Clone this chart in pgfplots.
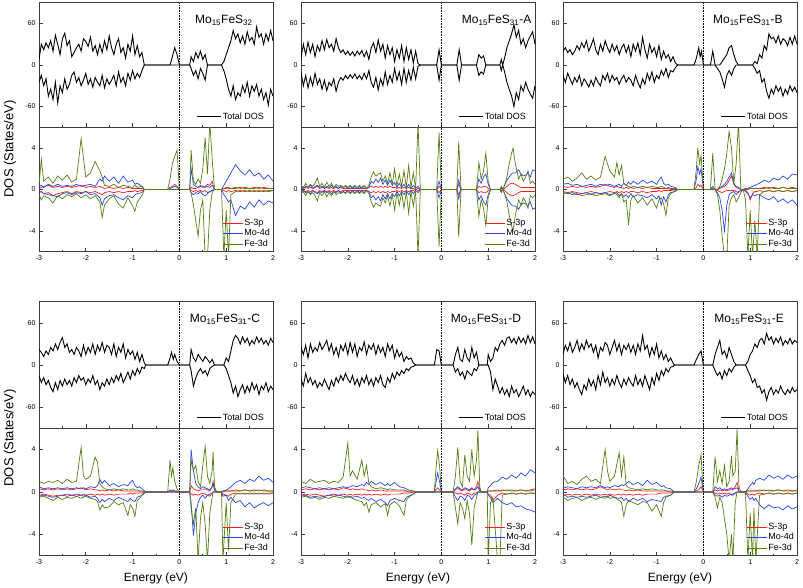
\documentclass[border=0pt]{standalone}
\usepackage{pgfplots}
\usepackage{pgfplotstable}
\pgfplotsset{compat=1.18}
\usepackage{fontspec}
\setmainfont{Liberation Sans}
\definecolor{cS}{RGB}{240,30,30}
\definecolor{cM}{RGB}{40,70,240}
\definecolor{cF}{RGB}{85,125,20}
\definecolor{axc}{RGB}{60,60,60}

% ---------------- Mo15FeS32 ----------------
\pgfplotstableread{
x u d
-3.00 8 -25
-2.95 30 -15
-2.90 22 -30
-2.85 32 -20
-2.80 25 -45
-2.75 35 -35
-2.70 20 -50
-2.65 43 -25
-2.60 30 -55
-2.55 15 -30
-2.50 38 -40
-2.45 46 -20
-2.40 28 -35
-2.35 35 -28
-2.30 12 -15
-2.25 18 -10
-2.20 25 -25
-2.15 30 -18
-2.10 20 -30
-2.05 38 -22
-2.00 34 -12
-1.95 27 -28
-1.90 40 -20
-1.85 20 -32
-1.80 28 -18
-1.75 15 -25
-1.70 30 -30
-1.65 18 -15
-1.60 35 -33
-1.55 22 -20
-1.50 42 -28
-1.45 25 -22
-1.40 15 -15
-1.35 30 -30
-1.30 38 -10
-1.25 18 -25
-1.20 25 -18
-1.15 10 -30
-1.10 30 -12
-1.05 20 -22
-1.00 42 -8
-0.95 15 -20
-0.90 28 -12
-0.85 12 -18
-0.80 18 -8
-0.75 0 0
-0.20 0 0
-0.15 12 0
-0.10 25 0
-0.05 15 0
0.00 0 0
0.22 0 0
0.25 12 -5
0.30 5 -15
0.35 18 -8
0.40 10 -20
0.45 20 -5
0.50 8 -12
0.55 15 -22
0.60 0 0
0.90 0 0
0.95 5 -8
1.00 15 -20
1.05 25 -35
1.10 35 -45
1.15 50 -30
1.20 38 -50
1.25 45 -40
1.30 32 -45
1.35 42 -30
1.40 30 -40
1.45 48 -25
1.50 35 -45
1.55 40 -30
1.60 30 -38
1.65 55 -28
1.70 40 -45
1.75 45 -35
1.80 30 -50
1.85 45 -40
1.90 35 -58
1.95 50 -35
2.00 35 -45
}\TotP
\pgfplotstableread{
x su sd mu md fu fd
-3.00 0.1 -0.3 0.3 -0.3 0.5 -0.5
-2.95 0.2 -0.2 0.4 -0.2 2.9 -1.0
-2.90 0.3 -0.4 0.2 -0.4 0.8 -0.6
-2.80 0.4 -0.3 0.5 -0.5 1.2 -0.8
-2.70 0.2 -0.6 0.3 -0.6 0.6 -1.3
-2.60 0.3 -0.4 0.5 -0.7 1.3 -0.6
-2.50 0.2 -0.3 0.3 -0.4 0.9 -0.9
-2.40 0.3 -0.2 0.4 -0.3 1.4 -0.5
-2.30 0.2 -0.4 0.3 -0.5 0.7 -0.7
-2.20 0.3 -0.2 0.5 -0.3 1.0 -0.4
-2.10 0.4 -0.3 0.3 -0.4 4.9 -0.8
-2.00 0.2 -0.2 0.4 -0.2 1.2 -0.5
-1.90 0.3 -0.3 0.5 -0.5 1.6 -0.9
-1.80 0.2 -0.2 0.3 -0.4 2.7 -0.6
-1.70 0.3 -0.4 1.0 -0.8 1.8 -1.2
-1.65 0.2 -0.5 0.8 -1.5 1.2 -2.7
-1.60 0.1 -0.3 1.3 -0.9 0.4 -1.5
-1.50 0.2 -0.2 0.8 -0.6 0.3 -0.9
-1.40 0.1 -0.3 1.2 -0.5 0.5 -0.6
-1.30 0.2 -0.2 0.6 -0.8 0.2 -1.4
-1.20 0.1 -0.3 1.3 -1.0 0.4 -1.8
-1.10 0.2 -0.2 0.7 -0.6 0.3 -0.8
-1.00 0.1 -0.2 0.9 -0.8 0.2 -1.6
-0.95 0.1 -0.1 0.5 -0.5 0.4 -2.1
-0.90 0.1 -0.2 0.6 -0.4 0.2 -1.2
-0.80 0.1 -0.1 0.3 -0.3 0.3 -0.6
-0.75 0 0 0 0 0 0
-0.25 0 0 0 0 0 0
-0.20 0.2 0 0.1 0 1.0 0
-0.15 0.3 0 0.2 0 2.5 0
-0.10 0.5 0 0.3 0 3.2 0
-0.05 0.3 0 0.2 0 3.8 0
0.00 0 0 0 0 0 0
0.22 0 0 0 0 0 0
0.25 0.2 -0.1 2.0 -0.3 3.8 -0.3
0.30 0.1 -0.2 0.5 -0.5 0.8 -1.5
0.35 0.1 -0.1 0.3 -0.3 0.5 -3.0
0.40 0.2 -0.2 0.2 -0.4 1.0 -4.5
0.45 0.3 -0.1 0.4 -0.2 0.6 -2.0
0.50 0.2 -0.2 0.3 -0.5 2.0 -1.0
0.55 0.3 -0.1 0.2 -0.6 5.0 -6.5
0.60 0.5 -0.3 0.3 -0.4 1.5 -6.5
0.65 0.4 -0.2 0.2 -0.2 6.5 -2.0
0.70 0.8 -0.1 0.4 -0.1 3.0 -0.3
0.75 0 0 0 0 0 0
0.90 0 0 0 0 0 0
0.95 0.1 -0.1 0.4 -0.5 0.1 -6.5
1.00 0.1 -0.2 0.8 -0.8 0.2 -2.0
1.05 0.2 -0.1 1.2 -1.2 0.1 -6.5
1.10 0.1 -0.2 1.6 -1.0 0.1 -0.5
1.20 0.2 -0.1 2.4 -2.5 0.1 -0.2
1.30 0.1 -0.2 1.8 -1.6 0.2 -0.1
1.40 0.2 -0.1 1.4 -1.9 0.1 -0.2
1.50 0.1 -0.2 1.9 -1.2 0.1 -0.1
1.60 0.2 -0.1 1.3 -1.7 0.1 -0.2
1.70 0.1 -0.2 1.6 -1.0 0.2 -0.1
1.80 0.2 -0.1 1.0 -1.5 0.1 -0.2
1.90 0.1 -0.2 1.4 -1.1 0.1 -0.1
2.00 0.1 -0.1 0.8 -1.3 0.1 -0.1
}\PdP

% ---------------- A ----------------
\pgfplotstableread{
x u d
-3.00 10 -10
-2.95 30 -30
-2.90 15 -15
-2.85 33 -33
-2.80 18 -18
-2.75 30 -30
-2.70 12 -12
-2.65 28 -28
-2.60 20 -20
-2.55 35 -35
-2.50 22 -22
-2.45 37 -37
-2.40 25 -25
-2.35 30 -30
-2.30 20 -20
-2.25 38 -38
-2.20 25 -25
-2.15 18 -18
-2.10 22 -22
-2.05 15 -15
-2.00 20 -20
-1.95 14 -14
-1.90 19 -19
-1.85 13 -13
-1.80 20 -20
-1.75 15 -15
-1.70 21 -21
-1.65 12 -12
-1.60 20 -20
-1.55 8 -8
-1.50 25 -25
-1.45 32 -32
-1.40 18 -18
-1.35 36 -36
-1.30 20 -20
-1.25 30 -30
-1.20 10 -10
-1.15 28 -28
-1.10 15 -15
-1.05 25 -25
-1.00 5 -5
-0.95 22 -22
-0.90 10 -10
-0.85 28 -28
-0.80 5 -5
-0.75 25 -25
-0.70 8 -8
-0.65 22 -22
-0.60 3 -3
-0.55 20 -20
-0.50 2 -2
-0.45 0 0
-0.10 0 0
-0.05 22 -22
0.00 0 0
0.33 0 0
0.38 22 -22
0.43 0 0
0.75 0 0
0.80 15 -15
0.85 10 -10
0.90 13 -13
0.95 0 0
1.25 0 0
1.28 8 -8
1.31 0 0
1.35 10 -10
1.40 25 -25
1.45 35 -35
1.50 45 -45
1.55 58 -60
1.60 40 -40
1.65 50 -50
1.70 30 -30
1.75 38 -38
1.80 25 -25
1.85 35 -35
1.90 42 -42
1.95 48 -48
2.00 30 -30
}\TotA
\pgfplotstableread{
x su sd mu md fu fd
-3.00 0.2 -0.2 0.3 -0.3 0.4 -0.4
-2.95 0.1 -0.1 0.1 -0.1 0.2 -0.2
-2.90 0.2 -0.2 0.3 -0.3 0.6 -0.6
-2.85 0.1 -0.1 0.2 -0.2 0.2 -0.2
-2.80 0.2 -0.2 0.4 -0.4 0.5 -0.5
-2.75 0.1 -0.1 0.1 -0.1 0.3 -0.3
-2.70 0.2 -0.2 0.3 -0.3 0.6 -0.6
-2.65 0.3 -0.3 0.4 -0.4 1.1 -1.1
-2.60 0.1 -0.1 0.2 -0.2 0.3 -0.3
-2.55 0.2 -0.2 0.3 -0.3 0.6 -0.6
-2.50 0.1 -0.1 0.1 -0.1 0.2 -0.2
-2.45 0.2 -0.2 0.3 -0.3 0.7 -0.7
-2.40 0.1 -0.1 0.2 -0.2 0.3 -0.3
-2.35 0.2 -0.2 0.4 -0.4 0.6 -0.6
-2.30 0.1 -0.1 0.2 -0.2 0.2 -0.2
-2.25 0.2 -0.2 0.3 -0.3 0.5 -0.5
-2.20 0.1 -0.1 0.1 -0.1 0.3 -0.3
-2.15 0.2 -0.2 0.3 -0.3 0.4 -0.4
-2.10 0.1 -0.1 0.2 -0.2 0.2 -0.2
-2.05 0.1 -0.1 0.3 -0.3 0.4 -0.4
-2.00 0.1 -0.1 0.1 -0.1 0.2 -0.2
-1.95 0.1 -0.1 0.3 -0.3 0.4 -0.4
-1.90 0.1 -0.1 0.1 -0.1 0.2 -0.2
-1.85 0.1 -0.1 0.3 -0.3 0.4 -0.4
-1.80 0.1 -0.1 0.1 -0.1 0.2 -0.2
-1.75 0.1 -0.1 0.3 -0.3 0.4 -0.4
-1.70 0.1 -0.1 0.1 -0.1 0.2 -0.2
-1.65 0.1 -0.1 0.3 -0.3 0.4 -0.4
-1.60 0.1 -0.1 0.1 -0.1 0.1 -0.1
-1.55 0.2 -0.2 0.2 -0.2 0.4 -0.4
-1.50 0.3 -0.3 0.8 -0.8 1.2 -1.2
-1.45 0.2 -0.2 0.6 -0.6 1.7 -1.7
-1.40 0.3 -0.3 1.0 -1.0 1.3 -1.3
-1.35 0.2 -0.2 0.7 -0.7 1.5 -1.5
-1.30 0.3 -0.3 1.1 -1.1 1.6 -1.6
-1.25 0.2 -0.2 0.5 -0.5 0.8 -0.8
-1.20 0.3 -0.3 0.9 -0.9 1.3 -1.3
-1.15 0.2 -0.2 0.4 -0.4 0.6 -0.6
-1.10 0.3 -0.3 0.9 -0.9 1.6 -1.6
-1.05 0.2 -0.2 0.4 -0.4 0.5 -0.5
-1.00 0.2 -0.2 0.7 -0.7 2.0 -2.0
-0.95 0.1 -0.1 0.2 -0.2 0.3 -0.3
-0.90 0.2 -0.2 0.6 -0.6 1.5 -1.5
-0.85 0.1 -0.1 0.2 -0.2 0.3 -0.3
-0.80 0.2 -0.2 0.5 -0.5 1.8 -1.8
-0.75 0.1 -0.1 0.1 -0.1 0.2 -0.2
-0.70 0.2 -0.2 0.5 -0.5 2.3 -2.3
-0.65 0.1 -0.1 0.1 -0.1 0.2 -0.2
-0.60 0.1 -0.1 0.4 -0.4 1.6 -1.6
-0.55 0.0 0.0 0.1 -0.1 0.1 -0.1
-0.50 0.1 -0.1 0.3 -0.3 6.5 -6.5
-0.45 0 0 0 0 0 0
-0.10 0 0 0 0 0 0
-0.05 0.3 -0.3 0.8 -0.8 5.5 -5.5
0.00 0 0 0 0 0 0
0.33 0 0 0 0 0 0
0.37 0.5 -0.5 0.9 -0.9 4.6 -4.6
0.42 0 0 0 0 0 0
0.75 0 0 0 0 0 0
0.80 0.3 -0.3 1.0 -1.0 2.6 -2.6
0.85 0.2 -0.2 0.6 -0.6 1.0 -1.0
0.90 0.3 -0.3 1.2 -1.2 1.8 -1.8
0.95 0.3 -0.3 1.5 -1.5 3.5 -3.5
1.00 0.1 -0.1 0.5 -0.5 0.8 -0.8
1.05 0 0 0 0 0 0
1.25 0 0 0 0 0 0
1.28 0.1 -0.1 0.2 -0.2 0.3 -0.3
1.31 0 0 0 0 0 0
1.35 0.1 -0.1 0.4 -0.4 0.4 -0.4
1.40 0.3 -0.3 0.9 -0.9 1.2 -1.2
1.45 0.5 -0.5 1.2 -1.2 2.5 -2.5
1.50 0.6 -0.6 1.5 -1.5 3.5 -3.5
1.53 0.6 -0.6 1.6 -1.6 4.0 -4.0
1.58 0.5 -0.5 1.6 -1.6 2.5 -2.5
1.65 0.3 -0.3 1.9 -1.9 1.0 -1.0
1.70 0.2 -0.2 1.5 -1.5 1.5 -1.5
1.75 0.2 -0.2 1.3 -1.3 0.8 -0.8
1.80 0.2 -0.2 1.4 -1.4 1.2 -1.2
1.85 0.2 -0.2 1.6 -1.6 1.8 -1.8
1.90 0.2 -0.2 1.2 -1.2 0.6 -0.6
1.95 0.2 -0.2 1.9 -1.9 0.8 -0.8
2.00 0.2 -0.2 1.8 -1.8 0.5 -0.5
}\PdA

% ---------------- B ----------------
\pgfplotstableread{
x u d
-3.00 20 -15
-2.95 25 -25
-2.90 18 -12
-2.85 22 -20
-2.80 15 -28
-2.75 20 -18
-2.70 28 -25
-2.65 22 -15
-2.60 32 -30
-2.55 25 -20
-2.50 35 -25
-2.45 20 -32
-2.40 28 -22
-2.35 38 -30
-2.30 22 -18
-2.25 15 -25
-2.20 30 -30
-2.15 20 -15
-2.10 35 -22
-2.05 25 -12
-2.00 18 -25
-1.95 30 -15
-1.90 20 -22
-1.85 28 -18
-1.80 15 -28
-1.75 25 -20
-1.70 30 -15
-1.65 18 -25
-1.60 28 -18
-1.55 12 -22
-1.50 30 -30
-1.45 20 -15
-1.40 32 -25
-1.35 15 -33
-1.30 40 -20
-1.25 22 -28
-1.20 10 -12
-1.15 30 -22
-1.10 18 -10
-1.05 25 -25
-1.00 12 -15
-0.95 28 -20
-0.90 8 -8
-0.85 20 -15
-0.80 10 -5
-0.75 15 -18
-0.70 5 -8
-0.65 12 -10
-0.60 3 -4
-0.55 0 0
-0.20 0 0
-0.15 10 0
-0.10 25 0
-0.07 12 0
-0.04 20 0
0.00 0 0
0.15 0 0
0.20 20 0
0.25 0 0
0.30 0 -5
0.35 0 -10
0.40 5 -20
0.45 10 -32
0.50 15 -15
0.55 25 -8
0.60 28 -15
0.65 15 -5
0.70 5 0
0.75 0 0
1.05 0 0
1.10 5 -5
1.15 2 -12
1.20 15 -8
1.25 10 -25
1.30 28 -20
1.35 22 -38
1.40 45 -48
1.45 38 -35
1.50 40 -42
1.55 32 -30
1.60 42 -38
1.65 30 -32
1.70 38 -45
1.75 35 -35
1.80 28 -42
1.85 40 -30
1.90 30 -38
1.95 42 -32
2.00 30 -40
}\TotB
\pgfplotstableread{
x su sd mu md fu fd
-3.00 0.3 -0.2 0.5 -0.3 1.0 -0.4
-2.90 0.2 -0.3 0.6 -0.4 1.2 -0.3
-2.80 0.3 -0.2 0.4 -0.3 0.8 -0.5
-2.70 0.2 -0.3 0.5 -0.5 1.1 -0.4
-2.60 0.3 -0.4 0.3 -0.4 1.6 -0.6
-2.50 0.2 -0.3 0.4 -0.3 1.0 -0.5
-2.40 0.3 -0.2 0.5 -0.5 1.3 -0.4
-2.30 0.2 -0.3 0.3 -0.3 0.9 -0.6
-2.20 0.3 -0.4 0.5 -0.4 1.2 -0.5
-2.10 0.5 -0.3 0.4 -0.3 3.2 -0.4
-2.00 0.3 -0.2 0.5 -0.5 1.8 -0.6
-1.90 0.2 -0.3 0.3 -0.4 1.2 -0.3
-1.85 0.3 -0.2 0.4 -0.3 2.6 -0.5
-1.80 0.2 -0.3 0.5 -0.6 1.4 -0.8
-1.75 0.2 -0.2 0.3 -0.4 2.3 -0.4
-1.70 0.1 -0.3 0.6 -0.7 0.6 -1.2
-1.65 0.2 -0.2 0.4 -0.5 0.4 -1.0
-1.60 0.1 -0.3 0.7 -0.8 0.3 -3.4
-1.55 0.2 -0.2 0.5 -0.4 0.2 -1.0
-1.50 0.1 -0.2 0.8 -0.7 0.3 -0.6
-1.40 0.2 -0.3 0.5 -0.5 0.2 -1.3
-1.30 0.1 -0.2 0.9 -0.6 0.3 -0.8
-1.20 0.2 -0.3 0.6 -0.8 0.2 -1.5
-1.10 0.1 -0.2 0.8 -0.5 0.3 -0.9
-1.00 0.1 -0.2 0.5 -0.9 0.2 -1.8
-0.95 0.1 -0.1 0.9 -0.6 0.2 -1.0
-0.90 0.1 -0.2 1.2 -1.5 0.3 -0.8
-0.85 0.1 -0.1 0.6 -0.7 0.2 -1.4
-0.80 0.1 -0.1 0.4 -1.2 0.1 -2.5
-0.75 0.1 -0.1 0.5 -0.5 0.2 -0.8
-0.70 0.0 -0.1 0.3 -0.3 0.1 -0.4
-0.60 0.0 0.0 0.2 -0.2 0.1 -0.1
-0.55 0 0 0 0 0 0
-0.20 0 0 0 0 0 0
-0.15 0.2 0 1.0 0 2.0 0
-0.12 0.5 0 2.2 0 4.0 0
-0.08 0.3 0 1.5 0 2.5 0
-0.05 0.4 0 2.0 0 3.3 0
0.00 0 0 0 0 0 0
0.15 0 0 0 0 0 0
0.20 0.1 0 0.3 0 3.5 0
0.25 0 0 0 0 0 0
0.30 0 -0.1 0 -0.3 0 -0.5
0.35 0.1 -0.2 0.2 -0.8 0.3 -2.0
0.40 0.2 -0.3 0.3 -2.0 1.0 -4.5
0.45 0.3 -0.2 0.5 -4.0 2.0 -6.5
0.50 0.5 -0.1 0.8 -1.5 3.5 -6.5
0.55 0.9 -0.1 1.2 -0.5 5.6 -1.5
0.60 1.3 -0.1 1.6 -0.3 4.0 -0.8
0.65 0.5 -0.1 0.6 -0.2 0.6 -0.5
0.70 0.2 -0.2 0.3 -0.5 2.5 -1.2
0.75 0.1 -0.3 0.2 -0.2 6.5 -0.8
0.80 0 -0.1 0 -0.1 0 -0.3
0.85 0 0 0 0 0 0
0.90 0 -0.1 0.1 -0.2 0 -1.0
0.95 0 -0.3 0.1 -0.4 0.1 -6.5
1.00 0.1 -1.0 0.2 -0.8 0.1 -2.0
1.05 0.1 -0.4 0.3 -0.5 0.1 -6.5
1.10 0.1 -0.2 0.4 -0.6 0.1 -3.0
1.15 0.1 -0.2 0.5 -0.5 0.1 -6.5
1.20 0.1 -0.1 0.6 -0.5 0.1 -0.5
1.30 0.2 -0.2 0.9 -0.8 0.1 -0.2
1.40 0.1 -0.1 0.7 -1.0 0.2 -0.1
1.50 0.2 -0.2 1.1 -0.7 0.1 -0.2
1.60 0.1 -0.1 0.9 -1.2 0.1 -0.1
1.70 0.2 -0.2 1.3 -0.9 0.2 -0.2
1.80 0.1 -0.1 1.0 -1.3 0.1 -0.1
1.90 0.2 -0.2 1.5 -1.0 0.1 -0.2
2.00 0.1 -0.1 1.4 -1.5 0.1 -0.1
}\PdB

% ---------------- C ----------------
\pgfplotstableread{
x u d
-3.00 22 -15
-2.95 18 -25
-2.90 12 -18
-2.85 20 -28
-2.80 15 -22
-2.75 25 -32
-2.70 20 -38
-2.65 30 -25
-2.60 22 -35
-2.55 32 -22
-2.50 39 -30
-2.45 25 -20
-2.40 30 -28
-2.35 18 -22
-2.30 22 -30
-2.25 15 -18
-2.20 25 -25
-2.15 20 -15
-2.10 12 -22
-2.05 28 -18
-2.00 15 -28
-1.95 25 -20
-1.90 18 -25
-1.85 30 -15
-1.80 15 -28
-1.75 28 -22
-1.70 20 -35
-1.65 32 -25
-1.60 18 -30
-1.55 28 -20
-1.50 25 -28
-1.45 15 -18
-1.40 30 -25
-1.35 12 -15
-1.30 25 -22
-1.25 18 -12
-1.20 30 -25
-1.15 10 -18
-1.10 22 -10
-1.05 15 -20
-1.00 20 -8
-0.95 8 -15
-0.90 18 -5
-0.85 5 -12
-0.80 15 -3
-0.75 3 -5
-0.72 0 0
-0.25 0 0
-0.20 10 0
-0.17 18 0
-0.13 8 0
-0.10 15 0
-0.05 5 0
0.00 0 0
0.22 0 0
0.25 22 -8
0.30 10 -30
0.35 5 -18
0.40 15 -10
0.45 10 -5
0.50 5 -12
0.55 12 -8
0.60 8 -15
0.65 3 -5
0.70 8 -2
0.75 0 0
0.95 0 0
1.00 10 -5
1.05 5 -15
1.10 20 -25
1.15 35 -40
1.20 42 -30
1.25 38 -45
1.30 30 -35
1.35 40 -28
1.40 32 -40
1.45 38 -30
1.50 28 -38
1.55 35 -25
1.60 30 -35
1.65 40 -28
1.70 32 -42
1.75 38 -30
1.80 30 -35
1.85 35 -25
1.90 28 -38
1.95 38 -30
2.00 32 -35
}\TotC
\pgfplotstableread{
x su sd mu md fu fd
-3.00 0.3 -0.3 0.5 -0.4 1.0 -0.5
-2.90 0.2 -0.2 0.3 -0.3 0.8 -0.4
-2.80 0.3 -0.3 0.4 -0.4 1.0 -0.6
-2.70 0.2 -0.4 0.3 -0.5 0.9 -0.8
-2.60 0.3 -0.3 0.4 -0.4 1.1 -0.5
-2.50 0.2 -0.3 0.3 -0.3 0.8 -0.7
-2.40 0.3 -0.2 0.4 -0.4 1.2 -0.5
-2.30 0.2 -0.3 0.3 -0.3 0.9 -0.6
-2.20 0.3 -0.2 0.4 -0.4 1.0 -0.4
-2.10 0.4 -0.3 0.3 -0.3 4.2 -0.6
-2.05 0.3 -0.2 0.4 -0.4 1.5 -0.5
-2.00 0.2 -0.3 0.3 -0.3 1.2 -0.4
-1.90 0.3 -0.2 0.5 -0.5 1.5 -0.6
-1.80 0.2 -0.3 0.4 -0.4 3.3 -0.7
-1.75 0.2 -0.2 0.6 -0.6 2.8 -0.9
-1.70 0.1 -0.3 1.2 -1.0 0.8 -1.7
-1.65 0.2 -0.2 0.8 -0.7 0.5 -1.2
-1.60 0.1 -0.3 1.1 -0.9 0.3 -1.5
-1.50 0.2 -0.2 0.6 -0.6 0.2 -1.4
-1.40 0.1 -0.3 0.8 -0.8 0.3 -0.9
-1.30 0.2 -0.2 0.5 -0.5 0.2 -1.2
-1.20 0.1 -0.2 0.7 -0.7 0.3 -1.0
-1.10 0.1 -0.2 0.6 -0.9 0.2 -2.2
-1.05 0.1 -0.1 0.9 -0.6 0.2 -1.2
-1.00 0.1 -0.2 1.1 -0.8 0.3 -1.5
-0.95 0.1 -0.1 0.6 -0.9 0.2 -2.3
-0.90 0.1 -0.1 0.4 -0.5 0.2 -0.8
-0.85 0.1 -0.1 0.5 -0.4 0.1 -0.6
-0.80 0.0 -0.1 0.3 -0.3 0.1 -0.3
-0.72 0 0 0 0 0 0
-0.25 0 0 0 0 0 0
-0.20 0.1 0 0.2 0 3.0 0
-0.17 0.1 0 0.1 0 1.5 0
-0.14 0.1 0 0.2 0 2.3 0
-0.10 0.1 0 0.1 0 1.0 0
-0.05 0 0 0.1 0 0.3 0
0.00 0 0 0 0 0 0
0.22 0 0 0 0 0 0
0.25 0.6 -0.2 4.0 -1.0 3.0 -1.5
0.30 0.3 -0.3 2.0 -4.1 2.0 -3.0
0.35 0.2 -0.2 0.8 -2.0 2.5 -1.5
0.40 0.1 -0.3 0.5 -1.0 1.0 -6.5
0.45 0.2 -0.2 0.3 -0.5 0.5 -2.5
0.50 0.2 -0.1 0.5 -0.3 2.5 -1.0
0.55 0.3 -0.2 0.4 -0.6 4.3 -3.0
0.60 0.2 -0.3 0.3 -0.3 1.5 -6.5
0.65 0.1 -0.4 0.2 -0.2 0.8 -2.0
0.70 0.5 -0.1 0.5 -0.1 2.0 -0.5
0.72 1.0 0 0.8 0 3.8 0
0.75 0.2 0 0.2 0 0.5 0
0.80 0 0 0 0 0 0
0.90 0 0 0 0 0 0
0.93 0 -0.2 0.1 -0.4 0.1 -6.5
1.00 0.1 -0.3 0.2 -0.3 0.1 -1.0
1.05 0.1 -0.4 0.3 -0.8 0.1 -5.5
1.10 0.1 -0.2 0.5 -0.5 0.1 -1.0
1.20 0.2 -0.1 0.9 -1.0 0.1 -0.2
1.30 0.1 -0.2 1.1 -0.8 0.1 -0.1
1.40 0.2 -0.1 0.8 -1.4 0.2 -0.2
1.50 0.1 -0.2 1.2 -1.0 0.1 -0.1
1.60 0.2 -0.1 1.0 -1.5 0.1 -0.2
1.70 0.1 -0.2 1.5 -1.2 0.2 -0.1
1.80 0.2 -0.1 1.1 -1.0 0.1 -0.2
1.90 0.1 -0.2 1.3 -1.3 0.1 -0.1
2.00 0.1 -0.1 0.9 -1.0 0.1 -0.1
}\PdC

% ---------------- D ----------------
\pgfplotstableread{
x u d
-3.00 25 -20
-2.95 15 -30
-2.90 28 -12
-2.85 10 -25
-2.80 30 -18
-2.75 18 -28
-2.70 25 -22
-2.65 20 -32
-2.60 32 -25
-2.55 22 -30
-2.50 28 -20
-2.45 35 -28
-2.40 20 -35
-2.35 30 -22
-2.30 15 -30
-2.25 25 -18
-2.20 12 -25
-2.15 28 -15
-2.10 20 -22
-2.05 30 -12
-2.00 15 -20
-1.95 32 -25
-1.90 18 -15
-1.85 30 -28
-1.80 12 -20
-1.75 25 -30
-1.70 20 -18
-1.65 33 -25
-1.60 15 -15
-1.55 28 -28
-1.50 22 -20
-1.45 30 -30
-1.40 15 -18
-1.35 28 -25
-1.30 18 -15
-1.25 25 -28
-1.20 12 -32
-1.15 30 -18
-1.10 20 -25
-1.05 28 -12
-1.00 10 -20
-0.95 22 -10
-0.90 12 -15
-0.85 18 -8
-0.80 5 -12
-0.75 12 -5
-0.70 8 -8
-0.65 10 -3
-0.60 3 -2
-0.55 0 0
-0.15 0 0
-0.10 22 0
-0.05 20 0
0.00 0 0
0.25 0 0
0.30 15 -10
0.35 25 -5
0.40 8 -15
0.45 5 -10
0.50 22 -20
0.55 10 -8
0.60 5 -12
0.65 25 -15
0.70 10 -5
0.75 18 -8
0.80 0 0
0.98 0 0
1.00 15 0
1.05 5 -10
1.10 10 -35
1.15 25 -20
1.20 20 -30
1.25 30 -40
1.30 35 -32
1.35 28 -42
1.40 38 -35
1.45 40 -45
1.50 32 -30
1.55 38 -40
1.60 30 -35
1.65 40 -45
1.70 32 -38
1.75 38 -30
1.80 30 -42
1.85 42 -35
1.90 32 -45
1.95 40 -38
2.00 30 -42
}\TotD
\pgfplotstableread{
x su sd mu md fu fd
-3.00 0.2 -0.3 0.4 -0.4 1.0 -0.5
-2.90 0.3 -0.2 0.5 -0.3 0.8 -0.4
-2.80 0.2 -0.3 0.4 -0.5 1.2 -0.6
-2.70 0.3 -0.2 0.3 -0.4 0.9 -0.5
-2.60 0.2 -0.3 0.4 -0.5 1.0 -0.7
-2.50 0.3 -0.4 0.3 -0.4 1.1 -0.5
-2.40 0.2 -0.3 0.4 -0.3 0.8 -0.6
-2.30 0.3 -0.2 0.3 -0.4 1.0 -0.4
-2.20 0.2 -0.3 0.4 -0.3 0.9 -0.5
-2.10 0.4 -0.2 0.5 -0.4 1.4 -0.6
-2.00 0.3 -0.3 0.4 -0.5 4.6 -0.4
-1.95 0.2 -0.2 0.5 -0.4 1.5 -0.5
-1.90 0.3 -0.3 0.6 -0.5 2.0 -0.6
-1.80 0.2 -0.2 0.5 -0.4 1.2 -0.8
-1.70 0.3 -0.3 0.7 -0.6 3.0 -0.9
-1.65 0.2 -0.2 0.6 -0.5 1.5 -1.3
-1.60 0.2 -0.3 0.9 -0.7 2.5 -1.0
-1.55 0.1 -0.2 0.7 -0.8 0.8 -1.9
-1.50 0.2 -0.3 1.0 -0.6 0.5 -1.2
-1.40 0.1 -0.2 0.7 -0.9 0.3 -1.0
-1.30 0.2 -0.3 0.9 -0.7 0.4 -1.4
-1.20 0.1 -0.2 0.6 -1.0 0.3 -1.1
-1.15 0.1 -0.3 0.8 -1.3 0.2 -2.2
-1.10 0.1 -0.2 0.6 -0.8 0.3 -1.2
-1.00 0.1 -0.2 0.9 -0.6 0.2 -0.9
-0.90 0.1 -0.2 0.5 -0.8 0.2 -1.3
-0.80 0.1 -0.1 0.4 -0.9 0.2 -2.2
-0.75 0.1 -0.1 0.3 -0.5 0.1 -0.8
-0.70 0.0 -0.1 0.2 -0.4 0.1 -0.5
-0.60 0.0 -0.0 0.1 -0.2 0.1 -0.2
-0.55 0 0 0 0 0 0
-0.15 0 0 0 0 0 0
-0.12 0.2 0 0.8 0 2.0 0
-0.08 0.4 0 1.8 0 3.9 0
-0.04 0.2 0 1.0 0 2.5 0
0.00 0 0 0 0 0 0
0.25 0 0 0 0 0 0
0.30 0.2 -0.1 0.3 -0.5 1.5 -1.5
0.35 0.4 -0.2 0.5 -0.8 4.2 -3.0
0.40 0.2 -0.1 0.3 -0.4 1.0 -1.0
0.45 0.1 -0.2 0.2 -0.5 0.5 -1.5
0.50 0.3 -0.3 0.4 -0.8 3.5 -2.5
0.55 0.2 -0.1 0.3 -0.3 1.5 -0.8
0.60 0.1 -0.2 0.2 -0.4 1.0 -2.0
0.65 0.3 -0.3 0.4 -0.7 4.0 -5.0
0.70 0.2 -0.1 0.2 -0.3 1.5 -1.5
0.75 0.5 -0.1 0.3 -0.2 3.0 -0.5
0.78 1.0 0 0.5 0 5.8 0
0.82 0.2 0 0.1 0 0.5 0
0.85 0 0 0 0 0 0
0.98 0 0 0 0 0 0
1.00 0.1 -0.2 0.4 -0.3 0.1 -6.5
1.05 0.1 -0.3 0.6 -0.5 0.1 -1.0
1.10 0.1 -0.8 0.9 -1.0 0.1 -0.5
1.20 0.2 -0.3 1.0 -0.6 0.1 -6.5
1.25 0.1 -0.2 1.2 -0.8 0.1 -6.5
1.30 0.2 -0.1 1.4 -1.0 0.1 -0.3
1.40 0.1 -0.2 1.2 -1.2 0.2 -0.2
1.50 0.2 -0.1 1.6 -1.0 0.1 -0.1
1.60 0.1 -0.2 1.3 -1.4 0.1 -0.2
1.70 0.2 -0.1 1.8 -1.3 0.2 -0.1
1.80 0.1 -0.2 1.5 -1.6 0.1 -0.2
1.90 0.2 -0.1 2.1 -1.7 0.1 -0.1
2.00 0.3 -0.1 1.8 -1.9 0.2 -0.2
}\PdD

% ---------------- E ----------------
\pgfplotstableread{
x u d
-3.00 15 -12
-2.95 28 -25
-2.90 20 -15
-2.85 32 -28
-2.80 18 -20
-2.75 25 -32
-2.70 35 -25
-2.65 20 -35
-2.60 30 -42
-2.55 22 -28
-2.50 35 -35
-2.45 25 -20
-2.40 30 -30
-2.35 18 -22
-2.30 28 -35
-2.25 10 -15
-2.20 25 -28
-2.15 20 -10
-2.10 32 -25
-2.05 28 -18
-2.00 15 -30
-1.95 25 -20
-1.90 35 -28
-1.85 20 -15
-1.80 30 -25
-1.75 15 -32
-1.70 28 -20
-1.65 22 -28
-1.60 30 -18
-1.55 18 -25
-1.50 28 -30
-1.45 15 -15
-1.40 30 -28
-1.35 20 -20
-1.30 42 -30
-1.25 22 -15
-1.20 28 -25
-1.15 12 -35
-1.10 25 -18
-1.05 15 -28
-1.00 30 -12
-0.95 10 -22
-0.90 20 -8
-0.85 8 -15
-0.80 15 -5
-0.75 5 -10
-0.70 10 -3
-0.65 3 -2
-0.62 0 0
-0.20 0 0
-0.15 8 0
-0.10 15 0
-0.05 20 0
0.00 0 0
0.20 0 0
0.25 15 -8
0.30 25 -15
0.35 35 -10
0.40 15 -20
0.45 20 -8
0.50 10 -15
0.55 25 -5
0.60 15 -10
0.65 5 -3
0.70 0 0
0.90 0 0
0.95 5 -8
1.00 15 -15
1.05 20 -25
1.10 30 -20
1.15 25 -32
1.20 35 -30
1.25 38 -40
1.30 30 -35
1.35 45 -50
1.40 35 -38
1.45 40 -32
1.50 30 -42
1.55 38 -35
1.60 32 -40
1.65 40 -30
1.70 28 -38
1.75 35 -42
1.80 30 -35
1.85 38 -40
1.90 30 -32
1.95 35 -38
2.00 32 -35
}\TotE
\pgfplotstableread{
x su sd mu md fu fd
-3.00 0.3 -0.2 0.5 -0.4 1.5 -0.5
-2.95 0.2 -0.3 0.4 -0.3 1.2 -0.6
-2.90 0.3 -0.2 0.5 -0.5 0.8 -0.8
-2.80 0.2 -0.3 0.4 -0.4 1.0 -0.6
-2.70 0.3 -0.2 0.3 -0.5 0.7 -0.5
-2.60 0.2 -0.3 0.5 -0.4 1.2 -0.8
-2.50 0.3 -0.2 0.4 -0.5 1.5 -0.6
-2.40 0.2 -0.3 0.5 -0.4 1.0 -0.5
-2.30 0.3 -0.2 0.4 -0.3 1.2 -0.7
-2.20 0.5 -0.3 0.6 -0.5 0.8 -0.5
-2.10 0.3 -0.2 0.4 -0.4 4.0 -0.6
-2.05 0.2 -0.3 0.5 -0.5 2.0 -0.4
-2.00 0.3 -0.2 0.4 -0.3 1.0 -0.6
-1.90 0.2 -0.3 0.6 -0.5 1.5 -0.5
-1.80 0.3 -0.2 0.5 -0.6 3.7 -0.8
-1.75 0.2 -0.3 0.7 -0.5 1.5 -1.0
-1.70 0.2 -0.2 0.6 -0.8 3.3 -2.3
-1.65 0.1 -0.3 0.8 -0.6 0.6 -1.2
-1.60 0.2 -0.2 1.0 -0.9 0.4 -0.8
-1.50 0.1 -0.3 0.7 -0.6 0.3 -1.0
-1.40 0.2 -0.2 0.9 -0.8 0.2 -1.2
-1.30 0.1 -0.3 0.6 -0.6 0.3 -0.9
-1.20 0.1 -0.2 1.1 -0.9 0.2 -1.0
-1.10 0.1 -0.2 0.7 -0.7 0.3 -1.8
-1.00 0.1 -0.2 0.9 -0.8 0.2 -1.2
-0.90 0.1 -0.1 0.5 -0.9 0.2 -2.3
-0.85 0.1 -0.1 0.6 -0.5 0.2 -1.0
-0.80 0.1 -0.1 0.4 -0.4 0.1 -0.5
-0.70 0.0 -0.1 0.3 -0.3 0.1 -0.3
-0.62 0 0 0 0 0 0
-0.20 0 0 0 0 0 0
-0.15 0.1 0 0.3 0 1.0 0
-0.10 0.2 0 0.8 0 2.5 0
-0.05 0.5 0 1.4 0 3.5 0
-0.02 0.2 0 0.5 0 1.0 0
0.00 0 0 0 0 0 0
0.20 0 0 0 0 0 0
0.25 0.2 -0.1 0.5 -0.3 3.3 -0.5
0.30 0.1 -0.2 0.3 -0.4 1.0 -1.5
0.35 0.2 -0.1 0.4 -0.3 2.0 -0.5
0.40 0.1 -0.2 0.2 -0.5 0.8 -1.0
0.45 0.2 -0.1 0.3 -0.3 2.5 -2.5
0.50 0.1 -0.2 0.2 -0.4 0.5 -4.0
0.55 0.2 -0.1 0.3 -0.3 1.0 -6.5
0.60 0.3 -0.3 0.4 -0.2 3.4 -4.0
0.63 0.2 -0.2 0.3 -0.3 1.5 -6.5
0.68 0.5 -0.1 0.3 -0.1 2.0 -1.0
0.72 0.9 0 0.4 0 5.9 0
0.76 0.1 0 0.1 0 0.5 0
0.80 0 0 0 0 0 0
0.90 0 0 0 0 0 0
0.95 0.1 -0.2 0.3 -0.4 0.1 -6.5
1.00 0.1 -0.3 0.6 -0.7 0.1 -2.0
1.05 0.1 -0.2 0.9 -0.5 0.1 -6.5
1.08 0.1 -0.3 0.7 -0.8 0.1 -1.5
1.12 0.1 -0.2 1.1 -0.6 0.1 -6.5
1.20 0.2 -0.1 1.3 -1.2 0.1 -0.3
1.30 0.1 -0.2 1.1 -1.6 0.2 -0.2
1.40 0.2 -0.1 1.6 -1.2 0.1 -0.1
1.50 0.1 -0.2 1.3 -1.5 0.1 -0.2
1.60 0.2 -0.1 1.5 -1.4 0.2 -0.1
1.70 0.1 -0.2 1.2 -1.7 0.1 -0.2
1.80 0.2 -0.1 1.6 -1.3 0.1 -0.1
1.90 0.1 -0.2 1.3 -1.6 0.1 -0.2
2.00 0.2 -0.1 1.5 -1.4 0.1 -0.1
}\PdE

\pgfplotsset{
  dosbase/.style={
    scale only axis, width=234pt, xmin=-3, xmax=2, anchor=south west,
    axis line style={axc, line width=0.9pt},
    tick style={axc, line width=0.6pt},
    major tick length=4pt, minor tick length=2pt, tick align=inside,
    tick pos=left,
    xtick={-3,-2,-1,0,1,2}, minor xtick={-2.5,-1.5,-0.5,0.5,1.5},
    ticklabel style={font=\fontsize{7}{8}\selectfont, text=black},
    legend cell align=left,
    legend style={draw=none, fill=none, inner sep=0pt, row sep=0pt,
      font=\fontsize{9}{10}\selectfont,
      nodes={inner sep=1pt, text height=6.5pt, text depth=2pt}},
  },
  upper/.style={dosbase, ymin=-90, ymax=90, ytick={-60,0,60},
    yticklabels={-60,0,60}, xticklabels={},
    legend style={at={(rel axis cs:1,0)}, anchor=south east, xshift=-8pt, yshift=5pt},
    legend image code/.code={\draw[##1] (0pt,0pt) -- (24pt,0pt);}},
  lower/.style={dosbase, ymin=-6, ymax=6, ytick={-4,0,4},
    yticklabels={-4,0,4}, xticklabels={-3,-2,-1,0,1,2},
    legend style={at={(rel axis cs:1,0)}, anchor=south east, xshift=-2pt, yshift=2pt},
    legend image code/.code={\draw[##1] (0pt,0pt) -- (20pt,0pt);}},
  elabel/.style={xlabel={Energy (eV)}, xlabel style={font=\fontsize{12}{13}\selectfont, yshift=-2pt}},
}

\newcommand{\totpanel}[6]{%
\begin{axis}[upper, at={(#1pt,#2pt)}, height=#3pt]
\addplot[black, line width=0.9pt] table[x=x,y=u]{#4};
\addlegendentry{Total DOS}
\addplot[black, line width=0.9pt, forget plot] table[x=x,y=d]{#4};
\addplot[black, densely dotted, line width=0.6pt, forget plot] coordinates {(0,-90) (0,90)};
\node[font=\fontsize{12}{13}\selectfont] at (rel axis cs:#6,0.86) {#5};
\end{axis}}

\newcommand{\pdospanel}[5]{%
\begin{axis}[lower, at={(#1pt,#2pt)}, height=#3pt, #5]
\addplot[cS, line width=0.7pt] table[x=x,y=su]{#4};
\addlegendentry{S-3p}
\addplot[cM, line width=0.7pt] table[x=x,y=mu]{#4};
\addlegendentry{Mo-4d}
\addplot[cF, line width=0.7pt] table[x=x,y=fu]{#4};
\addlegendentry{Fe-3d}
\addplot[cS, line width=0.7pt, forget plot] table[x=x,y=sd]{#4};
\addplot[cM, line width=0.7pt, forget plot] table[x=x,y=md]{#4};
\addplot[cF, line width=0.7pt, forget plot] table[x=x,y=fd]{#4};
\addplot[black, densely dotted, line width=0.6pt, forget plot] coordinates {(0,-6) (0,6)};
\end{axis}}

\begin{document}
\begin{tikzpicture}
\path[use as bounding box] (0,0) rectangle (803pt,588pt);
% top row
\totpanel{39}{460.7}{124.6}{\TotP}{Mo\textsubscript{15}FeS\textsubscript{32}}{0.79}
\pdospanel{39}{336.3}{124.4}{\PdP}{}
\totpanel{301}{460.7}{124.6}{\TotA}{Mo\textsubscript{15}FeS\textsubscript{31}-A}{0.836}
\pdospanel{301}{336.3}{124.4}{\PdA}{}
\totpanel{563}{460.7}{124.6}{\TotB}{Mo\textsubscript{15}FeS\textsubscript{31}-B}{0.79}
\pdospanel{563}{336.3}{124.4}{\PdB}{}
% bottom row
\totpanel{39}{159.7}{126.6}{\TotC}{Mo\textsubscript{15}FeS\textsubscript{31}-C}{0.795}
\pdospanel{39}{32.3}{127.4}{\PdC}{elabel}
\totpanel{301}{159.7}{126.6}{\TotD}{Mo\textsubscript{15}FeS\textsubscript{31}-D}{0.79}
\pdospanel{301}{32.3}{127.4}{\PdD}{elabel}
\totpanel{563}{159.7}{126.6}{\TotE}{Mo\textsubscript{15}FeS\textsubscript{31}-E}{0.795}
\pdospanel{563}{32.3}{127.4}{\PdE}{elabel}
% y labels
\node[rotate=90, font=\fontsize{13}{14}\selectfont] at (10pt,439pt) {DOS (States/eV)};
\node[rotate=90, font=\fontsize{13}{14}\selectfont] at (10pt,150pt) {DOS (States/eV)};
\end{tikzpicture}
\end{document}
